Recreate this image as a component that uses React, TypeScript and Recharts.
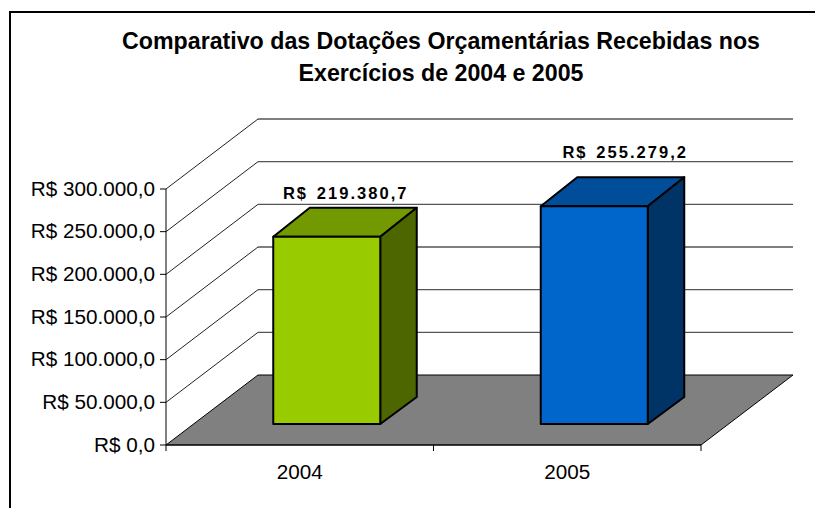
import { BarChart, Bar, CartesianGrid, XAxis, YAxis } from "recharts";

const years = ["2004", "2005"];
const dotacoes = [219380.7, 255279.2];
const axisTicks = [0, 50000, 100000, 150000, 200000, 250000, 300000];
const chartData = years.map((year, i) => ({ year, value: dotacoes[i] }));

const FRONT = ["#99CC00", "#0066CC"];
const TOP = ["#739900", "#004D99"];
const SIDE = ["#4D6600", "#003366"];

const FONT = "'Liberation Sans', Arial, sans-serif";
const WIDTH = 815;
const HEIGHT = 508;
const LEFT = 166;
const RIGHT = 701;
const BASE = 445;
// 3D extrusion of the floor, and of the bars standing on it
const DEPTH_X = 92;
const DEPTH_Y = 70;
const BAR_SHIFT_X = 27;
const BAR_SHIFT_Y = 21;
const BAR_DX = 36.5;
const BAR_DY_TOP = 29;
const BAR_DY_BOTTOM = 27;

const brl = (v: number, decimals = 1) =>
  "R$ " + v.toFixed(decimals).replace(".", ",").replace(/\B(?=(\d{3})+(?!\d))/g, ".");

// one grid line per value tick: runs up the side wall, then along the back wall
function WallLine({ y1 }: any) {
  const bx = LEFT + DEPTH_X;
  const by = y1 - DEPTH_Y;
  if (Math.abs(y1 - BASE) < 1) {
    return (
      <polygon
        points={`${LEFT},${y1} ${bx},${by} ${RIGHT + DEPTH_X},${by} ${RIGHT},${y1}`}
        fill="#808080"
        stroke="#000"
        strokeWidth={1}
      />
    );
  }
  return (
    <g>
      <line x1={LEFT} y1={y1} x2={bx} y2={by} stroke="#222" strokeWidth={1} />
      <line x1={bx} y1={by} x2={RIGHT + DEPTH_X} y2={by} stroke="#555" strokeWidth={1.4} />
    </g>
  );
}

function ValueTick({ x, y, payload }: any) {
  return (
    <g>
      <line x1={LEFT - 6} y1={y} x2={LEFT} y2={y} stroke="#000" />
      <text x={x - 3} y={y + 6.5} textAnchor="end" fontFamily={FONT} fontSize={20.7} fill="#000">
        {brl(payload.value)}
      </text>
    </g>
  );
}

function YearTick({ x, y, payload, index }: any) {
  const half = (RIGHT - LEFT) / years.length / 2;
  return (
    <g>
      {index === 0 && <line x1={x - half} y1={BASE} x2={x - half} y2={BASE + 6} stroke="#000" />}
      <line x1={x + half} y1={BASE} x2={x + half} y2={BASE + 6} stroke="#000" />
      <text x={x} y={y + 26} textAnchor="middle" fontFamily={FONT} fontSize={20.7} fill="#000">
        {payload.value}
      </text>
    </g>
  );
}

function Box3D({ x, y, width, height, index }: any) {
  const l = x + BAR_SHIFT_X;
  const r = l + width;
  const t = y - BAR_SHIFT_Y;
  const b = t + height;
  const face = { stroke: "#000", strokeWidth: 2, strokeLinejoin: "round" as const };
  return (
    <g>
      <polygon
        points={`${l},${t} ${l + BAR_DX},${t - BAR_DY_TOP} ${r + BAR_DX},${t - BAR_DY_TOP} ${r},${t}`}
        fill={TOP[index]}
        {...face}
      />
      <polygon
        points={`${r},${t} ${r + BAR_DX},${t - BAR_DY_TOP} ${r + BAR_DX},${b - BAR_DY_BOTTOM} ${r},${b}`}
        fill={SIDE[index]}
        {...face}
      />
      <rect x={l} y={t} width={width} height={height} fill={FRONT[index]} {...face} />
    </g>
  );
}

function ValueLabel({ x, y, width, value, index }: any) {
  const lift = index === 0 ? 59 : 69;
  const dx = index === 0 ? 46 : 58;
  return (
    <text
      x={x + width / 2 + dx}
      y={y - lift}
      textAnchor="middle"
      fontFamily={FONT}
      fontSize={16.5}
      fontWeight="bold"
      letterSpacing={2.05}
      wordSpacing={2}
      fill="#000"
    >
      {brl(value)}
    </text>
  );
}

export default function App() {
  return (
    <div style={{ position: "absolute", left: 0, top: 0, width: WIDTH, height: HEIGHT, background: "#fff" }}>
      <BarChart
        width={WIDTH}
        height={HEIGHT}
        data={chartData}
        barCategoryGap="30%"
        margin={{ top: 189, right: WIDTH - RIGHT, bottom: 0, left: 0 }}
      >
        <rect x={10} y={12} width={900} height={600} fill="none" stroke="#000" strokeWidth={2} />
        <text textAnchor="middle" fontFamily={FONT} fontWeight="bold" fontSize={23.2} fill="#000">
          <tspan x={441} y={48.5}>Comparativo das Dotações Orçamentárias Recebidas nos</tspan>
          <tspan x={441} y={80.5}>Exercícios de 2004 e 2005</tspan>
        </text>
        <CartesianGrid vertical={false} horizontal={<WallLine />} />
        <XAxis dataKey="year" height={63} axisLine={{ stroke: "#000" }} tickLine={false} tick={<YearTick />} interval={0} />
        <YAxis
          width={LEFT}
          domain={[0, 300000]}
          ticks={axisTicks}
          axisLine={{ stroke: "#000" }}
          tickLine={false}
          tick={<ValueTick />}
          interval={0}
        />
        <Bar dataKey="value" isAnimationActive={false} shape={<Box3D />} label={<ValueLabel />} />
      </BarChart>
    </div>
  );
}
